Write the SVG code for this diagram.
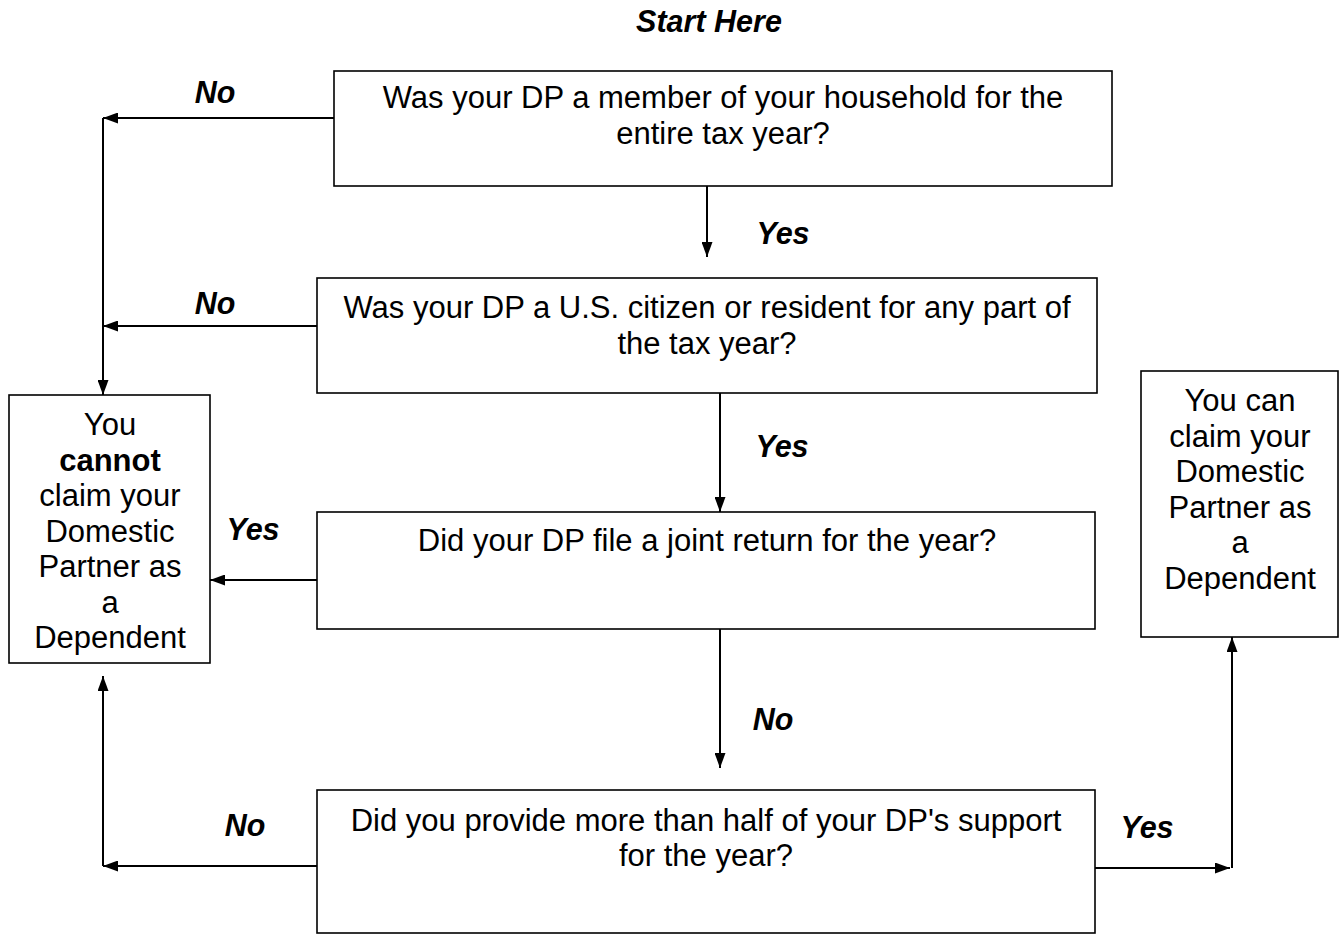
<svg xmlns="http://www.w3.org/2000/svg" width="1340" height="935" viewBox="0 0 1340 935">
<style>
.box{fill:#fff;stroke:#000;stroke-width:1.6}
.t{font-family:"Liberation Sans",Arial,sans-serif;font-size:31px;fill:#000;text-anchor:middle}
.b{font-weight:bold}
.lbl{font-family:"Liberation Sans",Arial,sans-serif;font-size:30.5px;font-weight:bold;font-style:italic;fill:#000;text-anchor:middle}
.c{fill:none;stroke:#000;stroke-width:2}
</style>
<defs>
<marker id="ah" viewBox="0 0 15 11" refX="15" refY="5.5" markerWidth="15" markerHeight="11" markerUnits="userSpaceOnUse" orient="auto">
<path d="M0,0 L15,5.5 L0,11 Z" fill="#000"/>
</marker>
</defs>
<rect width="1340" height="935" fill="#fff"/>
<text class="lbl" x="709" y="32">Start Here</text>
<g id="q1">
<rect class="box" x="334" y="71" width="778" height="115"/>
<text class="t" x="723" y="108">Was your DP a member of your household for the</text>
<text class="t" x="723" y="144">entire tax year?</text>
</g>
<g id="q2">
<rect class="box" x="317" y="278" width="780" height="115"/>
<text class="t" x="707" y="318">Was your DP a U.S. citizen or resident for any part of</text>
<text class="t" x="707" y="354">the tax year?</text>
</g>
<g id="q3">
<rect class="box" x="317" y="512" width="778" height="117"/>
<text class="t" x="707" y="551">Did your DP file a joint return for the year?</text>
</g>
<g id="q4">
<rect class="box" x="317" y="790" width="778" height="143"/>
<text class="t" x="706" y="831">Did you provide more than half of your DP's support</text>
<text class="t" x="706" y="866">for the year?</text>
</g>
<g id="cannot">
<rect class="box" x="9" y="395" width="201" height="268"/>
<text class="t" x="110" y="435">You</text>
<text class="t b" x="110" y="471">cannot</text>
<text class="t" x="110" y="506">claim your</text>
<text class="t" x="110" y="542">Domestic</text>
<text class="t" x="110" y="577">Partner as</text>
<text class="t" x="110" y="613">a</text>
<text class="t" x="110" y="648">Dependent</text>
</g>
<g id="can">
<rect class="box" x="1141" y="371" width="197" height="266"/>
<text class="t" x="1240" y="411">You can</text>
<text class="t" x="1240" y="447">claim your</text>
<text class="t" x="1240" y="482">Domestic</text>
<text class="t" x="1240" y="518">Partner as</text>
<text class="t" x="1240" y="553">a</text>
<text class="t" x="1240" y="589">Dependent</text>
</g>
<g id="connectors">
<path class="c" d="M334,118 H103" marker-end="url(#ah)"/>
<path class="c" d="M103,118 V395" marker-end="url(#ah)"/>
<path class="c" d="M317,326 H103" marker-end="url(#ah)"/>
<path class="c" d="M317,580 H210" marker-end="url(#ah)"/>
<path class="c" d="M317,866 H103" marker-end="url(#ah)"/>
<path class="c" d="M103,866 V676" marker-end="url(#ah)"/>
<path class="c" d="M1095,868 H1230" marker-end="url(#ah)"/>
<path class="c" d="M1232,868 V637" marker-end="url(#ah)"/>
<path class="c" d="M707,186 V257" marker-end="url(#ah)"/>
<path class="c" d="M720,393 V512" marker-end="url(#ah)"/>
<path class="c" d="M720,629 V768" marker-end="url(#ah)"/>
</g>
<g id="labels">
<text class="lbl" x="215" y="103">No</text>
<text class="lbl" x="215" y="314">No</text>
<text class="lbl" x="783" y="244">Yes</text>
<text class="lbl" x="782" y="457">Yes</text>
<text class="lbl" x="253" y="540">Yes</text>
<text class="lbl" x="773" y="730">No</text>
<text class="lbl" x="245" y="836">No</text>
<text class="lbl" x="1147" y="838">Yes</text>
</g>
</svg>
